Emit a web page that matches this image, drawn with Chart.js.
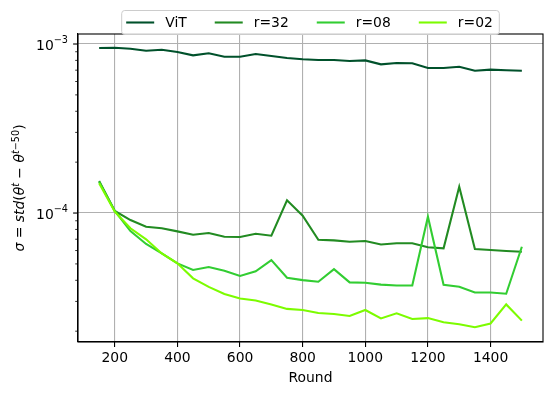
<!DOCTYPE html>
<html>
<head>
<meta charset="utf-8">
<script src="https://cdn.jsdelivr.net/npm/chart.js@4"></script>
<style>
html,body{margin:0;padding:0;background:#fff;}
#wrap{width:553px;height:395px;}
</style>
</head>
<body>
<div id="wrap"><canvas id="c" width="553" height="395"></canvas></div>
<script>
const rounds = [150,200,250,300,350,400,450,500,550,600,650,700,750,800,850,900,950,1000,1050,1100,1150,1200,1250,1300,1350,1400,1450,1500];
const vit = [9.47e-4,9.51e-4,9.38e-4,9.13e-4,9.25e-4,8.97e-4,8.57e-4,8.81e-4,8.41e-4,8.41e-4,8.73e-4,8.49e-4,8.26e-4,8.12e-4,8.04e-4,8.04e-4,7.93e-4,8.0e-4,7.58e-4,7.72e-4,7.69e-4,7.21e-4,7.21e-4,7.34e-4,6.95e-4,7.05e-4,6.99e-4,6.95e-4];
const r32 = [1.546e-4,1.028e-4,9.09e-5,8.30e-5,8.12e-5,7.79e-5,7.44e-5,7.61e-5,7.24e-5,7.21e-5,7.54e-5,7.34e-5,1.189e-4,9.64e-5,6.95e-5,6.89e-5,6.76e-5,6.83e-5,6.51e-5,6.62e-5,6.62e-5,6.27e-5,6.18e-5,1.431e-4,6.12e-5,6.04e-5,5.96e-5,5.90e-5];
const r08 = [1.532e-4,1.028e-4,7.82e-5,6.56e-5,5.77e-5,5.04e-5,4.60e-5,4.79e-5,4.56e-5,4.24e-5,4.52e-5,5.27e-5,4.14e-5,4.01e-5,3.92e-5,4.66e-5,3.89e-5,3.87e-5,3.77e-5,3.73e-5,3.73e-5,9.51e-5,3.76e-5,3.66e-5,3.39e-5,3.39e-5,3.33e-5,6.32e-5];
const r02 = [1.498e-4,1.018e-4,8.12e-5,6.99e-5,5.77e-5,5.04e-5,4.11e-5,3.66e-5,3.32e-5,3.12e-5,3.04e-5,2.88e-5,2.71e-5,2.67e-5,2.56e-5,2.53e-5,2.46e-5,2.67e-5,2.38e-5,2.55e-5,2.36e-5,2.39e-5,2.26e-5,2.20e-5,2.11e-5,2.22e-5,2.88e-5,2.31e-5];
const seriesNames = ['ViT','r=32','r=08','r=02'];
const seriesColors = ['#00512b','#228b22','#32cd32','#7cfc00'];
const xTicks = [200,400,600,800,1000,1200,1400];
const yMajor = [1e-4,1e-3];
const yMinor = [2e-5,3e-5,4e-5,5e-5,6e-5,7e-5,8e-5,9e-5,2e-4,3e-4,4e-4,5e-4,6e-4,7e-4,8e-4,9e-4];

const FS = 13.9;
const FAM = '"DejaVu Sans", sans-serif';

function pts(vals){ return rounds.map((r,i)=>({x:r,y:vals[i]})); }
const allSeries = [vit,r32,r08,r02];

const decorPlugin = {
  id:'decor',
  afterDraw(chart){
    const ctx = chart.ctx;
    const ca = chart.chartArea;
    const ys = chart.scales.y;
    ctx.save();
    // spines
    ctx.strokeStyle = '#000'; ctx.lineWidth = 1.1;
    ctx.strokeRect(ca.left, ca.top, ca.right-ca.left, ca.bottom-ca.top);
    // y ticks
    const all = yMajor.concat(yMinor);
    all.forEach(v=>{
      const py = ys.getPixelForValue(v);
      if (py < ca.top-0.5 || py > ca.bottom+0.5) return;
      const major = yMajor.includes(v);
      const len = major ? 4.9 : 2.8;
      ctx.lineWidth = major ? 1.1 : 0.8;
      ctx.beginPath(); ctx.moveTo(ca.left, py); ctx.lineTo(ca.left-len, py); ctx.stroke();
    });
    // y tick labels 10^k
    ctx.fillStyle = '#000';
    ctx.textBaseline = 'middle';
    yMajor.forEach(v=>{
      const py = ys.getPixelForValue(v);
      const exp = '\u2212' + Math.round(-Math.log10(v));
      ctx.font = (FS*0.7).toFixed(1)+'px '+FAM;
      const we = ctx.measureText(exp).width;
      ctx.font = FS+'px '+FAM;
      const wb = ctx.measureText('10').width;
      const right = ca.left - 10;
      ctx.textAlign = 'left';
      ctx.fillText('10', right - we - wb, py + 2);
      ctx.font = (FS*0.7).toFixed(1)+'px '+FAM;
      ctx.fillText(exp, right - we, py - 4);
    });
    // y axis title (mathtext-like)
    const segs = [
      {t:'\u03c3', it:true},{t:' = ', it:false},{t:'std', it:true},{t:'(', it:false},
      {t:'\u03b8', it:true},{t:'t', it:true, sup:true},{t:' \u2212 ', it:false},
      {t:'\u03b8', it:true},{t:'t', it:true, sup:true},{t:'\u221250', it:false, sup:true},{t:')', it:false}
    ];
    const fontFor = s => (s.it?'italic ':'') + (s.sup ? (FS*0.7).toFixed(1) : FS) + 'px ' + FAM;
    let total = 0;
    segs.forEach(s=>{ ctx.font = fontFor(s); s.w = ctx.measureText(s.t).width; total += s.w; });
    ctx.translate(19, (ca.top+ca.bottom)/2);
    ctx.rotate(-Math.PI/2);
    let cx = -total/2;
    ctx.textAlign = 'left';
    ctx.textBaseline = 'alphabetic';
    segs.forEach(s=>{ ctx.font = fontFor(s); ctx.fillText(s.t, cx, 5 - (s.sup?5.5:0)); cx += s.w; });
    ctx.restore();

    // legend
    ctx.save();
    ctx.font = FS+'px '+FAM;
    const handle = 28, tpad = 11, colsp = 28, bpad = 3.5;
    const widths = seriesNames.map(n=>ctx.measureText(n).width);
    let content = 0;
    widths.forEach((w,i)=>{ content += handle + tpad + w + (i<widths.length-1?colsp:0); });
    const bw = content + 2*bpad + 4;
    const bx = (ca.left+ca.right)/2 - bw/2;
    const by = 10.5, bh = 24;
    const r = 3;
    ctx.beginPath();
    ctx.moveTo(bx+r,by); ctx.lineTo(bx+bw-r,by); ctx.quadraticCurveTo(bx+bw,by,bx+bw,by+r);
    ctx.lineTo(bx+bw,by+bh-r); ctx.quadraticCurveTo(bx+bw,by+bh,bx+bw-r,by+bh);
    ctx.lineTo(bx+r,by+bh); ctx.quadraticCurveTo(bx,by+bh,bx,by+bh-r);
    ctx.lineTo(bx,by+r); ctx.quadraticCurveTo(bx,by,bx+r,by); ctx.closePath();
    ctx.fillStyle = 'rgba(255,255,255,0.8)'; ctx.fill();
    ctx.strokeStyle = '#cccccc'; ctx.lineWidth = 1; ctx.stroke();
    let lx = bx + bpad + 1;
    const ly = by + bh/2;
    seriesNames.forEach((n,i)=>{
      ctx.strokeStyle = seriesColors[i]; ctx.lineWidth = 2.08;
      ctx.beginPath(); ctx.moveTo(lx, ly); ctx.lineTo(lx+handle, ly); ctx.stroke();
      ctx.fillStyle = '#000'; ctx.textAlign='left'; ctx.textBaseline='middle';
      ctx.fillText(n, lx+handle+tpad, ly+1);
      lx += handle + tpad + widths[i] + colsp;
    });
    ctx.restore();
  }
};

new Chart(document.getElementById('c'), {
  type:'line',
  data:{
    datasets: allSeries.map((s,i)=>({
      label: seriesNames[i],
      data: pts(s),
      borderColor: seriesColors[i],
      backgroundColor: seriesColors[i],
      borderWidth: 2.08,
      pointRadius: 0,
      tension: 0,
      fill: false,
      order: 3 - i
    }))
  },
  options:{
    responsive:false,
    animation:false,
    devicePixelRatio:1,
    layout:{padding:{left:0,top:34,right:10,bottom:0}},
    plugins:{legend:{display:false},tooltip:{enabled:false}},
    scales:{
      x:{
        type:'linear',
        min:82.5, max:1567.5,
        afterBuildTicks(scale){ scale.ticks = xTicks.map(v=>({value:v})); },
        afterFit(scale){ scale.height = 53; },
        grid:{color:'#b0b0b0', lineWidth:1.1, drawTicks:true, tickLength:4.9, tickColor:'#000', tickWidth:1.1},
        border:{display:true,color:'#000',width:1.1},
        ticks:{color:'#000', font:{family:FAM,size:FS}, padding:3.5, maxRotation:0, autoSkip:false,
          callback:(v)=>String(v)},
        title:{display:true,text:'Round',color:'#000',font:{family:FAM,size:FS},padding:{top:0,bottom:8}}
      },
      y:{
        type:'logarithmic',
        min:1.726e-5, max:1.146e-3,
        afterBuildTicks(scale){ scale.ticks = yMajor.concat(yMinor).sort((a,b)=>a-b).map(v=>({value:v})); },
        afterFit(scale){ scale.width = 78; },
        grid:{color:(c)=> (c.tick && yMajor.includes(c.tick.value)) ? '#b0b0b0' : 'rgba(0,0,0,0)', lineWidth:1.1, drawTicks:false},
        border:{display:true,color:'#000',width:1.1},
        ticks:{display:false}
      }
    }
  },
  plugins:[decorPlugin]
});
</script>
</body>
</html>
